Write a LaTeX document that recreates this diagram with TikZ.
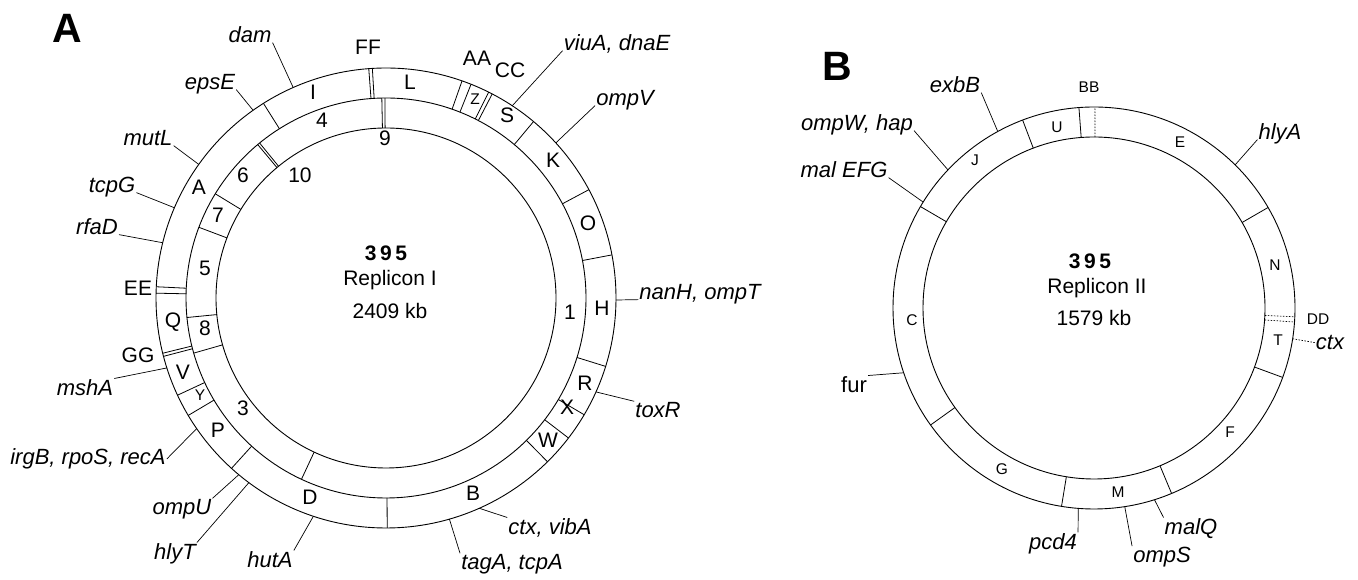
\documentclass[tikz,border=0pt]{standalone}
\usepackage{fontspec}
\setmainfont{Liberation Sans}
\begin{document}
\begin{tikzpicture}[x=1pt,y=1pt,
  ring/.style={line width=0.9pt},
  tick/.style={line width=0.8pt},
  lead/.style={line width=0.7pt},
  faint/.style={line width=0.7pt, dash pattern=on 1.5pt off 1.5pt},
  gene/.style={font=\fontsize{22}{26}\selectfont\itshape, inner sep=1pt, anchor=mid},
  plain/.style={font=\fontsize{22}{26}\selectfont, inner sep=1pt, anchor=mid},
  seglab/.style={font=\fontsize{21}{25}\selectfont, inner sep=0pt, anchor=mid},
  minilab/.style={font=\fontsize{15.5}{18}\selectfont, inner sep=0pt, anchor=mid},
  panel/.style={font=\fontsize{41}{45}\selectfont\bfseries, inner sep=0pt, anchor=mid},
  title/.style={font=\fontsize{21}{25}\selectfont, inner sep=0pt, anchor=mid}]
\useasboundingbox (0,0) rectangle (1358,580);

% ---------------- Replicon I ----------------
\begin{scope}[shift={(386,282)}]
  \draw[ring] (0,0) circle (230);
  \draw[ring] (0,0) circle (200);
  \draw[ring] (0,0) circle (170);
  % outer ring (lettered fragments)
  \foreach \a in {122.2,94.3,93.4,70.7,68.3,63.5,62.5,50.1,28.1,10.8,-17.3,-30.5,-37.5,-45.4,-89.7,227.8,210.7,205,194.7,193.9,178.8,177.2}
    \draw[tick] (\a:200) -- (\a:230);
  % inner ring (numbered fragments)
  \foreach \a in {129.9,129.2,91.2,90.3,245,196,185.6,159.3,148.6}
    \draw[tick] (\a:170) -- (\a:200);
  % gene positions on the outer circle
  \coordinate (pa-dam) at (113.8:230);
  \coordinate (pa-epsE) at (125.3:230);
  \coordinate (pa-mutL) at (144.5:230);
  \coordinate (pa-tcpG) at (156.9:230);
  \coordinate (pa-rfaD) at (166.1:230);
  \coordinate (pa-mshA) at (197.7:230);
  \coordinate (pa-irgB) at (214.6:230);
  \coordinate (pa-ompU) at (230.2:230);
  \coordinate (pa-hlyT) at (233.4:230);
  \coordinate (pa-hutA) at (251.6:230);
  \coordinate (pa-tagA) at (-74:230);
  \coordinate (pa-ctx) at (-66.1:230);
  \coordinate (pa-toxR) at (-24.1:230);
  \coordinate (pa-nanH) at (-0.5:230);
  \coordinate (pa-ompV) at (42.4:230);
  \coordinate (pa-viuA) at (56.7:230);
\end{scope}

\node[panel] (panelA) at (67,540) {A};

% centre caption
\node[title] (a395) at (386,322) {\bfseries 3\,9\,5};
\node[title] (arep) at (390,297) {Replicon I};
\node[title] (akb) at (390,264) {2409 kb};

% outer ring letters
\node[seglab] (aI) at (313,483) {I};
\node[seglab] (aL) at (410,493) {L};
\node[minilab] (aZ) at (475,478) {Z};
\node[seglab] (aS) at (507,460) {S};
\node[seglab] (aK) at (553,415) {K};
\node[seglab] (aO) at (588,352) {O};
\node[seglab] (aH) at (602,267) {H};
\node[seglab] (aR) at (585,192) {R};
\node[seglab] (aX) at (567,168) {X};
\node[seglab] (aW) at (548,135) {W};
\node[seglab] (aB) at (473,82) {B};
\node[seglab] (aD) at (310,78) {D};
\node[seglab] (aP) at (218,145) {P};
\node[minilab] (aY) at (200,182) {Y};
\node[seglab] (aV) at (183,203) {V};
\node[seglab] (aQ) at (173,255) {Q};
\node[seglab] (aA) at (199,388) {A};
\node[seglab] (aFF) at (368,528) {FF};
\node[seglab] (aAA) at (477,517) {AA};
\node[seglab] (aCC) at (510,505) {CC};
\node[seglab] (aEE) at (138,287) {EE};
\node[seglab] (aGG) at (138,220) {GG};

% inner ring numbers
\node[seglab] (n4) at (322,455) {4};
\node[seglab] (n9) at (385,437) {9};
\node[seglab] (n10) at (300,400) {10};
\node[seglab] (n6) at (243,400) {6};
\node[seglab] (n7) at (218,360) {7};
\node[seglab] (n5) at (205,307) {5};
\node[seglab] (n8) at (205,247) {8};
\node[seglab] (n3) at (243,167) {3};
\node[seglab] (n1) at (570,263) {1};

% gene labels
\node[gene] (dam) at (250,540) {dam};
\node[gene] (epsE) at (210,493) {epsE};
\node[gene] (mutL) at (148,437) {mutL};
\node[gene] (tcpG) at (112,390) {tcpG};
\node[gene] (rfaD) at (97,348) {rfaD};
\node[gene] (mshA) at (85,187) {mshA};
\node[gene] (irgB) at (88,118) {irgB, rpoS, recA};
\node[gene] (ompU) at (182,68) {ompU};
\node[gene] (hlyT) at (175,23) {hlyT};
\node[gene] (hutA) at (270,15) {hutA};
\node[gene] (tagA) at (512,13) {tagA, tcpA};
\node[gene] (ctxA) at (550,48) {ctx, vibA};
\node[gene] (toxR) at (658,165) {toxR};
\node[gene] (nanH) at (700,283) {nanH, ompT};
\node[gene] (ompV) at (625,477) {ompV};
\node[gene] (viuA) at (617,532) {viuA, dnaE};

\draw[lead] (dam.base east) -- (pa-dam);
\draw[lead] (epsE.base east) -- (pa-epsE);
\draw[lead] (mutL.base east) -- (pa-mutL);
\draw[lead] (tcpG.base east) -- (pa-tcpG);
\draw[lead] (rfaD.base east) -- (pa-rfaD);
\draw[lead] (mshA.north east) -- (pa-mshA);
\draw[lead] (irgB.east) -- (pa-irgB);
\draw[lead] (ompU.north east) -- (pa-ompU);
\draw[lead] (hlyT.north east) -- (pa-hlyT);
\draw[lead] (hutA.north east) -- (pa-hutA);
\draw[lead] (tagA.north west) -- (pa-tagA);
\draw[lead] (ctxA.north west) -- (pa-ctx);
\draw[lead] (toxR.north west) -- (pa-toxR);
\draw[lead] (nanH.base west) -- (pa-nanH);
\draw[lead] (ompV.base west) -- (pa-ompV);
\draw[lead] (viuA.base west) -- (pa-viuA);

% ---------------- Replicon II ----------------
\begin{scope}[shift={(1094,272)}]
  \draw[ring] (0,0) circle (201);
  \draw[ring] (0,0) circle (171);
  \foreach \a in {94.3,110.8,149.7,215.6,260.7,-67.3,-20.2,30}
    \draw[tick] (\a:171) -- (\a:201);
  \draw[faint] (89.7:171) -- (89.7:201);
  \draw[faint] (-2.5:171) -- (-2.5:201);
  \draw[faint] (-4:171) -- (-4:201);
  \coordinate (pb-exbB) at (118.6:201);
  \coordinate (pb-ompW) at (136.6:201);
  \coordinate (pb-mal) at (148.2:201);
  \coordinate (pb-fur) at (198.8:201);
  \coordinate (pb-pcd) at (265.5:201);
  \coordinate (pb-ompS) at (-81.2:201);
  \coordinate (pb-malQ) at (-72.5:201);
  \coordinate (pb-hlyA) at (45.4:201);
  \coordinate (pb-ctx) at (-8.8:201);
\end{scope}

\node[panel] (panelB) at (837,502) {B};

\node[title] (b395) at (1090,314) {\bfseries 3\,9\,5};
\node[title] (brep) at (1097,289) {Replicon II};
\node[title] (bkb) at (1094,257) {1579 kb};

\node[minilab] (bU) at (1057,450) {U};
\node[minilab] (bE) at (1180,435) {E};
\node[minilab] (bN) at (1275,312) {N};
\node[minilab] (bT) at (1278,237) {T};
\node[minilab] (bF) at (1230,145) {F};
\node[minilab] (bM) at (1118,85) {M};
\node[minilab] (bG) at (1002,108) {G};
\node[minilab] (bC) at (912,257) {C};
\node[minilab] (bJ) at (975,417) {J};
\node[minilab] (bBB) at (1089,490) {BB};
\node[minilab] (bDD) at (1318,258) {DD};

\node[gene] (exbB) at (955,490) {exbB};
\node[gene] (ompW) at (857,452) {ompW, hap};
\node[gene] (malEFG) at (844,405) {mal EFG};
\node[plain] (fur) at (854,190) {fur};
\node[gene] (pcd) at (1053,33) {pcd4};
\node[gene] (ompS) at (1162,20) {ompS};
\node[gene] (malQ) at (1191,48) {malQ};
\node[gene] (hlyA) at (1280,443) {hlyA};
\node[gene] (ctxB) at (1330,233) {ctx};

\draw[lead] (exbB.base east) -- (pb-exbB);
\draw[lead] (ompW.base east) -- (pb-ompW);
\draw[lead] (malEFG.base east) -- (pb-mal);
\draw[lead] (fur.north east) -- (pb-fur);
\draw[lead] (pcd.north east) -- (pb-pcd);
\draw[lead] (ompS.north west) -- (pb-ompS);
\draw[lead] (malQ.north west) -- (pb-malQ);
\draw[lead] (hlyA.base west) -- (pb-hlyA);
\draw[faint] (ctxB.west) -- (pb-ctx);
\end{tikzpicture}
\end{document}
